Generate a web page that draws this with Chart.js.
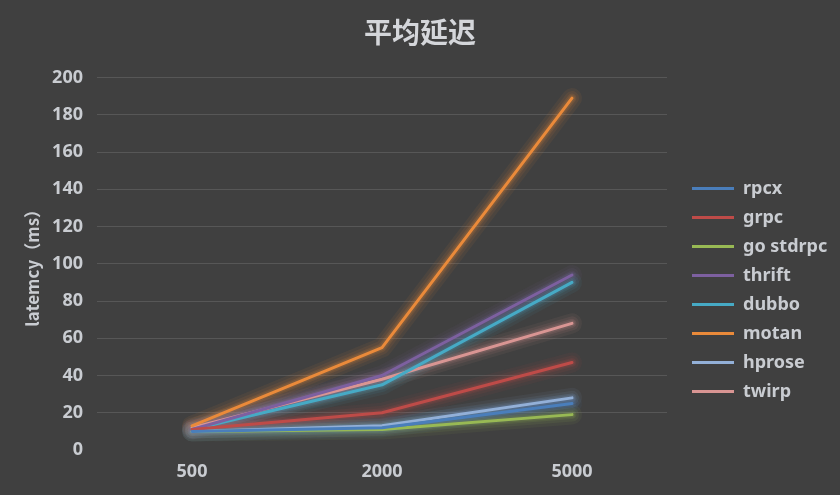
<!DOCTYPE html>
<html>
<head>
<meta charset="utf-8">
<script src="https://cdn.jsdelivr.net/npm/chart.js@4"></script>
<style>
  html, body { margin: 0; padding: 0; background: #404040; }
  #wrap { width: 840px; height: 495px; position: relative; }
</style>
</head>
<body>
<div id="wrap"><canvas id="c"></canvas></div>
<script>
const categories = ['500', '2000', '5000'];
const seriesNames = ['rpcx', 'grpc', 'go stdrpc', 'thrift', 'dubbo', 'motan', 'hprose', 'twirp'];
const rpcx     = [10, 12, 25];
const grpc     = [11, 20, 47];
const goStdrpc = [10, 11, 19];
const thrift   = [11, 40, 94];
const dubbo    = [11, 35, 90];
const motan    = [13, 55, 189];
const hprose   = [10, 13, 28];
const twirp    = [12, 38, 68];
const yTicks = [0, 20, 40, 60, 80, 100, 120, 140, 160, 180, 200];

const seriesValues = [rpcx, grpc, goStdrpc, thrift, dubbo, motan, hprose, twirp];
const colors = ['#4a7ebb', '#be4b48', '#98b954', '#7d60a0', '#46aac5', '#ea8a3a', '#93b0d8', '#d99593'];

function hexToRgba(hex, a) {
  const n = parseInt(hex.slice(1), 16);
  return 'rgba(' + ((n >> 16) & 255) + ',' + ((n >> 8) & 255) + ',' + (n & 255) + ',' + a + ')';
}

const textColor = '#c9ccd1';
const fontFam = "'Noto Sans', 'DejaVu Sans', sans-serif";

const datasets = seriesNames.map((n, i) => ({
  label: n,
  data: seriesValues[i],
  borderColor: colors[i],
  backgroundColor: colors[i],
  borderWidth: 3,
  borderCapStyle: 'round',
  borderJoinStyle: 'round',
  pointRadius: 0,
  pointHoverRadius: 0,
  tension: 0,
  fill: false
}));

const glowPlugin = {
  id: 'glow',
  beforeDatasetsDraw(chart) {
    const ctx = chart.ctx;
    const metas = chart.getSortedVisibleDatasetMetas();
    // draw glow halos first
    for (let k = metas.length - 1; k >= 0; k--) {
      const meta = metas[k];
      const pts = meta.data;
      if (!pts || pts.length < 2) continue;
      const col = colors[meta.index];
      ctx.save();
      ctx.lineJoin = 'round';
      ctx.lineCap = 'round';
      for (const [w, a] of [[20, 0.07], [14, 0.09], [9, 0.12], [6, 0.15]]) {
        ctx.strokeStyle = hexToRgba(col, a);
        ctx.lineWidth = w;
        ctx.beginPath();
        ctx.moveTo(pts[0].x, pts[0].y);
        for (let j = 1; j < pts.length; j++) ctx.lineTo(pts[j].x, pts[j].y);
        ctx.stroke();
      }
      ctx.restore();
    }
  }
};

const legendPlace = {
  id: 'legendPlace',
  beforeUpdate(chart) {
    const lg = chart.legend;
    if (lg && !lg._patched) {
      const orig = lg.fit.bind(lg);
      lg.fit = function () { orig(); this.width = 173; };
      lg._patched = true;
    }
  },
  afterLayout(chart) {
    const lg = chart.legend;
    if (!lg) return;
    const pad = lg.options.labels.padding;
    const targetCenter = 290;
    const contentH = lg.columnSizes && lg.columnSizes[0] ? lg.columnSizes[0].height : 0;
    const newTop = targetCenter - contentH / 2 - pad;
    lg.top = newTop;
    lg.bottom = newTop + contentH + pad * 2;
    lg.left = 692 - pad;
    lg.right = lg.left + 173;
  }
};

const bgPlugin = {
  id: 'bg',
  beforeDraw(chart) {
    const ctx = chart.ctx;
    ctx.save();
    ctx.fillStyle = '#404040';
    ctx.fillRect(0, 0, chart.width, chart.height);
    ctx.restore();
  }
};

new Chart(document.getElementById('c'), {
  type: 'line',
  data: { labels: categories, datasets },
  plugins: [bgPlugin, glowPlugin, legendPlace],
  options: {
    responsive: true,
    maintainAspectRatio: false,
    animation: false,
    devicePixelRatio: 1,
    layout: { padding: { left: 0, right: 0, top: 16, bottom: 0 } },
    plugins: {
      tooltip: { enabled: false },
      title: {
        display: true,
        text: '平均延迟',
        color: '#d4d6da',
        font: { family: "'Noto Sans CJK SC', sans-serif", size: 28, weight: 'bold' },
        padding: { top: 0, bottom: 28 }
      },
      legend: {
        display: true,
        position: 'right',
        align: 'center',
        labels: {
          color: textColor,
          font: { family: fontFam, size: 18, weight: 'bold' },
          usePointStyle: true,
          pointStyle: 'line',
          pointStyleWidth: 42,
          padding: 11
        }
      }
    },
    scales: {
      x: {
        offset: true,
        grid: { display: false, drawTicks: false },
        border: { display: false },
        ticks: {
          color: textColor,
          font: { family: fontFam, size: 18, weight: 'bold' },
          padding: 11
        },
        afterFit(scale) { scale.height = 45; }
      },
      y: {
        min: 0,
        max: 200,
        afterBuildTicks(scale) { scale.ticks = yTicks.map(v => ({ value: v })); },
        grid: {
          color: (c) => c.tick && c.tick.value === 0 ? 'rgba(0,0,0,0)' : '#575757',
          lineWidth: 1,
          drawTicks: false
        },
        border: { display: false },
        ticks: {
          color: textColor,
          font: { family: fontFam, size: 18, weight: 'bold' },
          padding: 14
        },
        title: {
          display: true,
          text: 'latemcy（ms）',
          color: textColor,
          font: { family: "'Noto Sans CJK SC', 'Noto Sans', sans-serif", size: 17, weight: 'bold' },
          padding: { top: 22, bottom: 0 }
        },
        afterFit(scale) { scale.width = 97; }
      }
    }
  }
});
</script>
</body>
</html>
